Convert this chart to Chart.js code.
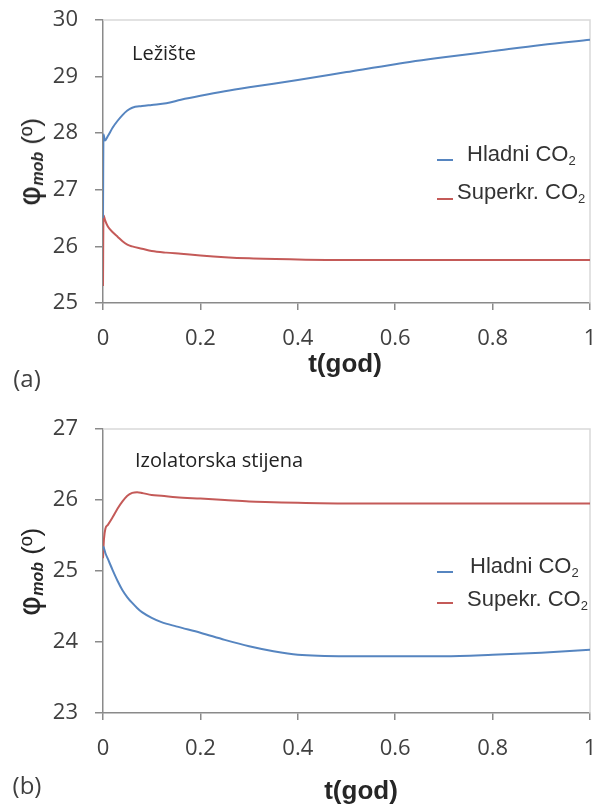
<!DOCTYPE html>
<html>
<head>
<meta charset="utf-8">
<script src="https://cdn.jsdelivr.net/npm/chart.js@4.4.0/dist/chart.umd.min.js"></script>
<style>
html,body{margin:0;padding:0;background:#fff;}
body{width:596px;height:805px;position:relative;overflow:hidden;}
.panel{position:absolute;left:0;width:596px;}
.panel canvas{position:absolute;left:0;top:0;}
.lbl{position:absolute;white-space:nowrap;line-height:1;}
.ytitle{font-family:'DejaVu Sans',sans-serif;color:#262626;transform:translate(-50%,-50%) rotate(-90deg);}
.ytitle .phi{font-size:31px;}
.ytitle sub{font-family:'Liberation Sans',Arial,sans-serif;font-style:italic;font-weight:bold;font-size:16px;vertical-align:-3px;}
.ytitle .deg{font-family:'Liberation Sans',Arial,sans-serif;font-size:26px;}
.xtitle{font-family:'Liberation Sans',Arial,sans-serif;font-weight:bold;font-size:26px;color:#262626;transform:translate(-50%,-50%);}
.tag{font-family:'Open Sans',sans-serif;font-size:24px;color:#404040;transform:translate(-50%,-50%);}
.note{font-family:'Open Sans',sans-serif;font-size:20px;color:#222;transform:translateY(-50%);}
.legtxt{font-family:'Liberation Sans',Arial,sans-serif;font-size:22px;color:#333;transform:translateY(-50%);}
.legtxt sub{font-size:13px;vertical-align:-4px;}
.legsw{position:absolute;height:2px;width:16px;}
</style>
</head>
<body>
<div class="panel" style="top:0;height:400px;"><canvas id="cA" width="596" height="400"></canvas></div>
<div class="panel" style="top:400px;height:405px;"><canvas id="cB" width="596" height="405"></canvas></div>

<div class="lbl ytitle" style="left:30px;top:162px;"><span class="phi">φ</span><sub>mob</sub><span class="deg"> (º)</span></div>
<div class="lbl ytitle" style="left:30px;top:572px;"><span class="phi">φ</span><sub>mob</sub><span class="deg"> (º)</span></div>
<div class="lbl xtitle" style="left:345px;top:363px;">t(god)</div>
<div class="lbl xtitle" style="left:361px;top:790px;">t(god)</div>
<div class="lbl tag" style="left:27px;top:378px;">(a)</div>
<div class="lbl tag" style="left:27px;top:785px;">(b)</div>
<div class="lbl note" style="left:132px;top:53px;">Ležište</div>
<div class="lbl note" style="left:135px;top:460px;">Izolatorska stijena</div>
<div id="legends"></div>

<script>
// ---------- DATA ----------
const xTickValues = [0, 0.2, 0.4, 0.6, 0.8, 1];
const xTickLabels = ['0', '0.2', '0.4', '0.6', '0.8', '1'];

// Panel (a) – Ležište
const yTickLabelsA = ['25', '26', '27', '28', '29', '30'];
const seriesNamesA = ['Hladni CO2', 'Superkr. CO2'];
const tA        = [0, 0.001, 0.004, 0.01, 0.02, 0.03, 0.04, 0.05, 0.06, 0.08, 0.1, 0.13, 0.16, 0.2, 0.25, 0.3, 0.4, 0.5, 0.6, 0.7, 0.8, 0.9, 1.0];
const hladniA   = [26.5, 27.98, 27.87, 27.95, 28.1, 28.22, 28.32, 28.4, 28.45, 28.48, 28.5, 28.53, 28.59, 28.66, 28.74, 28.81, 28.94, 29.08, 29.22, 29.34, 29.45, 29.56, 29.65];
const superkrA  = [25.3, 26.55, 26.47, 26.35, 26.25, 26.17, 26.09, 26.03, 26.0, 25.96, 25.92, 25.89, 25.87, 25.84, 25.81, 25.79, 25.77, 25.76, 25.76, 25.76, 25.76, 25.76, 25.76];

// Panel (b) – Izolatorska stijena
const yTickLabelsB = ['23', '24', '25', '26', '27'];
const seriesNamesB = ['Hladni CO2', 'Supekr. CO2'];
const tB        = [0, 0.002, 0.005, 0.01, 0.02, 0.03, 0.04, 0.05, 0.06, 0.07, 0.08, 0.1, 0.12, 0.15, 0.2, 0.25, 0.3, 0.35, 0.4, 0.5, 0.6, 0.7, 0.8, 0.9, 1.0];
const hladniB   = [25.35, 25.32, 25.25, 25.17, 25.01, 24.86, 24.73, 24.63, 24.55, 24.48, 24.42, 24.34, 24.28, 24.22, 24.13, 24.03, 23.94, 23.87, 23.82, 23.8, 23.8, 23.8, 23.82, 23.85, 23.89];
const supekrB   = [25.18, 25.45, 25.6, 25.65, 25.76, 25.88, 25.98, 26.06, 26.1, 26.11, 26.1, 26.07, 26.06, 26.04, 26.02, 26.0, 25.98, 25.97, 25.96, 25.95, 25.95, 25.95, 25.95, 25.95, 25.95];

// ---------- STYLE ----------
const BLUE = '#5685c0';
const RED = '#c45a58';
const AXIS = '#8a8a8a';
const FRAME = '#d9d9d9';
const TICKTXT = '#404040';

const legendLayoutA = [{lineY:160, textX:467, textY:155}, {lineY:199, textX:457, textY:193}];
const legendLayoutB = [{lineY:572, textX:470, textY:567}, {lineY:603, textX:467, textY:600}];

function xy(t, v) { return t.map((x, i) => ({x: x, y: v[i]})); }

const framePlugin = {
  id: 'frame',
  beforeDatasetsDraw(chart) {
    const a = chart.chartArea, ctx = chart.ctx;
    ctx.save();
    ctx.strokeStyle = FRAME;
    ctx.lineWidth = 1.5;
    ctx.beginPath();
    ctx.moveTo(a.left, a.top);
    ctx.lineTo(a.right, a.top);
    ctx.lineTo(a.right, a.bottom);
    ctx.stroke();
    ctx.restore();
  }
};

function makeHtmlLegend(chart, layout) {
  const host = document.getElementById('legends');
  chart.data.datasets.forEach((ds, i) => {
    const L = layout[i];
    const sw = document.createElement('div');
    sw.className = 'legsw';
    sw.style.left = '437px';
    sw.style.top = (L.lineY - 1) + 'px';
    sw.style.background = ds.borderColor;
    host.appendChild(sw);
    const tx = document.createElement('div');
    tx.className = 'lbl legtxt';
    tx.style.left = L.textX + 'px';
    tx.style.top = L.textY + 'px';
    tx.innerHTML = ds.label.replace(/CO2$/, 'CO<sub>2</sub>');
    host.appendChild(tx);
  });
}

function makeChart(id, cfg) {
  const yVals = cfg.yLabels.map(Number);
  return new Chart(document.getElementById(id), {
    type: 'scatter',
    data: {
      datasets: [
        {label: cfg.names[0], data: xy(cfg.t, cfg.cold), borderColor: BLUE, backgroundColor: BLUE,
         showLine: true, pointRadius: 0, borderWidth: 2, cubicInterpolationMode: 'monotone'},
        {label: cfg.names[1], data: xy(cfg.t, cfg.warm), borderColor: RED, backgroundColor: RED,
         showLine: true, pointRadius: 0, borderWidth: 2, cubicInterpolationMode: 'monotone'}
      ]
    },
    options: {
      responsive: false,
      animation: false,
      devicePixelRatio: 1,
      layout: {padding: {top: cfg.padTop, right: 6, left: 0, bottom: 0}},
      plugins: {legend: {display: false}, tooltip: {enabled: false}},
      scales: {
        x: {
          type: 'linear', min: 0, max: 1,
          afterBuildTicks: s => { s.ticks = xTickValues.map(v => ({value: v})); },
          ticks: {callback: (v, i) => xTickLabels[i], font: {family: 'Open Sans', size: 22}, color: TICKTXT,
                  padding: 16, maxRotation: 0, autoSkip: false},
          grid: {drawOnChartArea: false, drawTicks: true, tickLength: 7, color: AXIS, lineWidth: 1.5},
          border: {color: AXIS, width: 1.5},
          afterFit: s => { s.height = cfg.xAxisH; s.paddingLeft = 0; s.paddingRight = 0; }
        },
        y: {
          type: 'linear', min: yVals[0], max: yVals[yVals.length - 1],
          afterBuildTicks: s => { s.ticks = yVals.map(v => ({value: v})); },
          ticks: {callback: (v, i) => cfg.yLabels[i], font: {family: 'Open Sans', size: 22}, color: TICKTXT, padding: 17, autoSkip: false},
          grid: {drawOnChartArea: false, drawTicks: true, tickLength: 8, color: AXIS, lineWidth: 1.5},
          border: {color: AXIS, width: 1.5},
          afterFit: s => { s.width = 103; s.paddingTop = 0; s.paddingBottom = 0; }
        }
      }
    },
    plugins: [framePlugin]
  });
}

const chartA = makeChart('cA', {t: tA, cold: hladniA, warm: superkrA, names: seriesNamesA, yLabels: yTickLabelsA, padTop: 20, xAxisH: 97});
const chartB = makeChart('cB', {t: tB, cold: hladniB, warm: supekrB, names: seriesNamesB, yLabels: yTickLabelsB, padTop: 29, xAxisH: 92});
makeHtmlLegend(chartA, legendLayoutA);
makeHtmlLegend(chartB, legendLayoutB);
</script>
</body>
</html>
